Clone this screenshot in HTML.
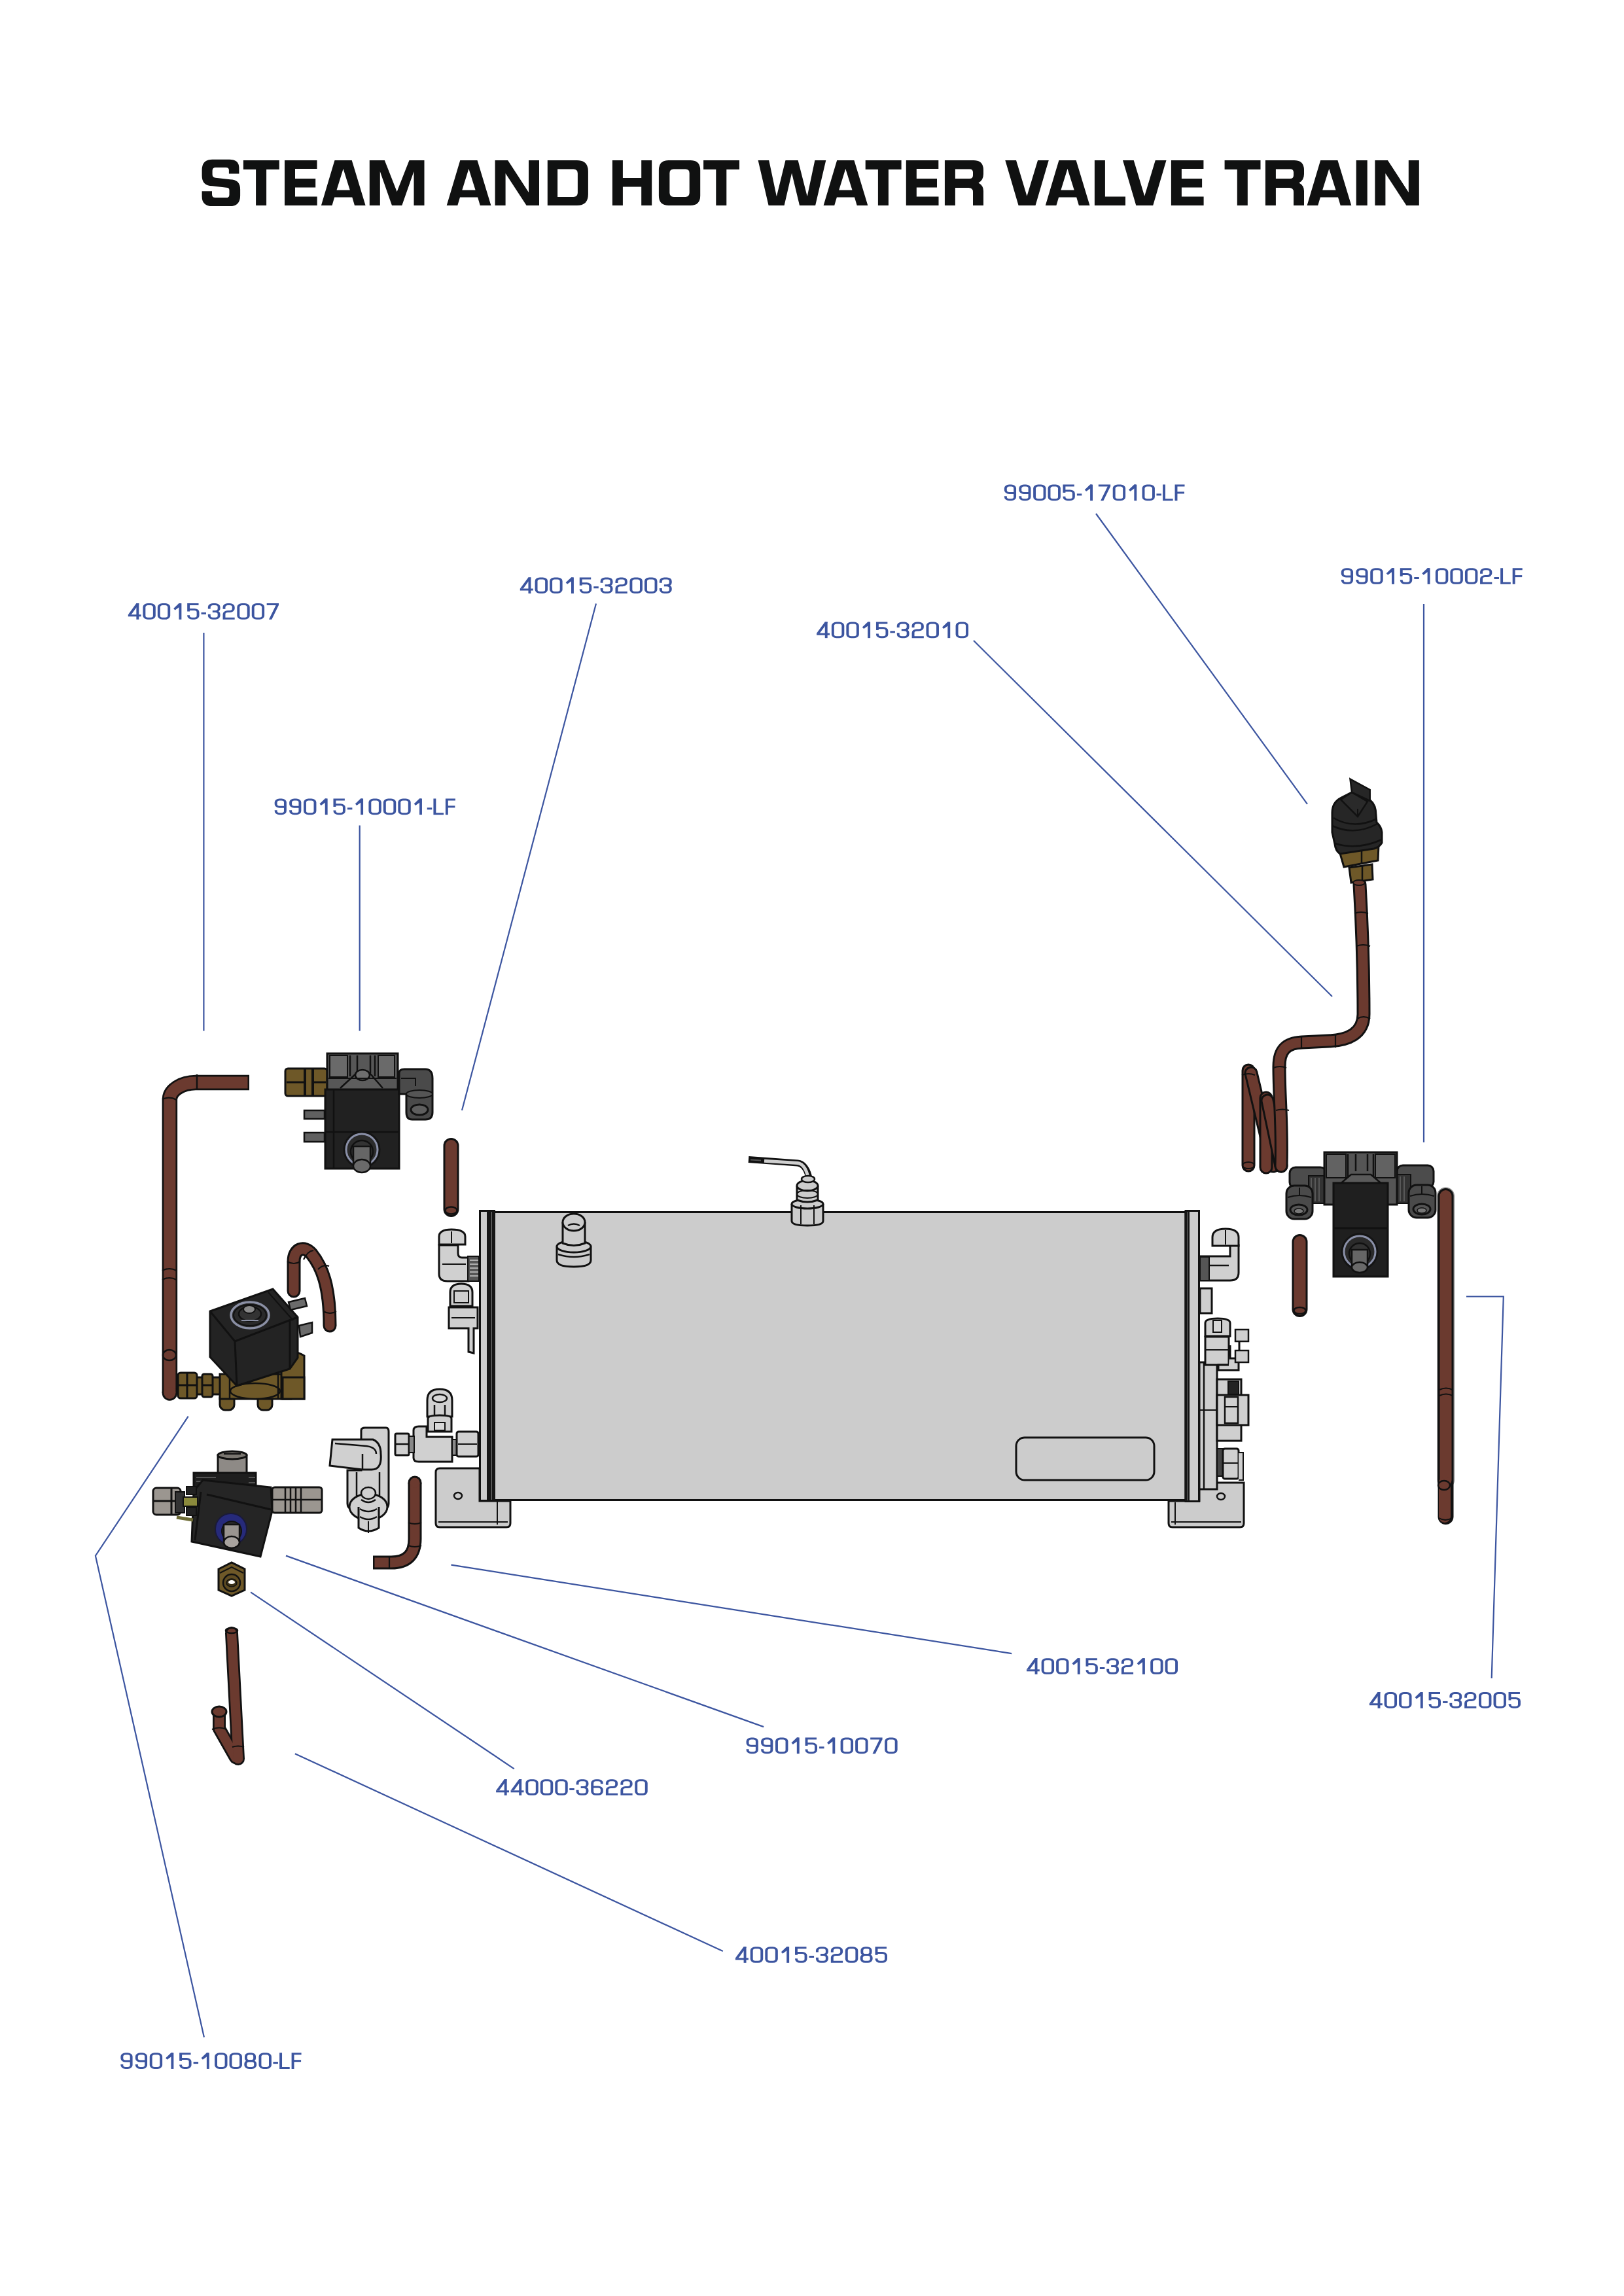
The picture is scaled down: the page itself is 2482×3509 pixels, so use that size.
<!DOCTYPE html>
<html><head><meta charset="utf-8">
<style>
html,body{margin:0;padding:0;background:#fff;}
body{width:2482px;height:3509px;overflow:hidden;position:relative;}
svg{position:absolute;left:0;top:0;display:block;}
.lbl{font-family:"Liberation Sans",sans-serif;font-size:35.6px;fill:#3c55a0;stroke:#3c55a0;stroke-width:0.6px;}
.ttl{font-family:"Liberation Sans",sans-serif;font-weight:bold;font-size:101.7px;fill:#101111;}
.ld{stroke:#3c55a0;stroke-width:2.2;fill:none;}
.pb{fill:none;stroke:#111;stroke-linecap:round;stroke-linejoin:round;}
.pc{fill:none;stroke:#6b3a2f;stroke-linecap:round;stroke-linejoin:round;}
</style></head>
<body>
<svg width="2482" height="3509" viewBox="0 0 2482 3509">
<!-- TEXT -->
<defs>
<g id="g0"><path d="M1.95,7.45 A5.5,5.5 0 0 1 7.45,1.95 H11.95 A5.5,5.5 0 0 1 17.45,7.45 V24.55 A5.5,5.5 0 0 1 11.95,30.05 H7.45 A5.5,5.5 0 0 1 1.95,24.55 Z" fill="none"/></g>
<g id="g8"><path d="M2.6,6.95 A5,5 0 0 1 7.6,1.95 H10.75 A5,5 0 0 1 15.75,6.95 V11.1 A5,5 0 0 1 10.75,16.1 H7.6 A5,5 0 0 1 2.6,11.1 Z" fill="none"/><path d="M1.95,21.6 A5.5,5.5 0 0 1 7.45,16.1 H11.35 A5.5,5.5 0 0 1 16.85,21.6 V24.55 A5.5,5.5 0 0 1 11.35,30.05 H7.45 A5.5,5.5 0 0 1 1.95,24.55 Z" fill="none"/></g>
<g id="g9"><path d="M16.25,16.6 H7.45 A5.5,5.5 0 0 1 1.95,11.1 V7.45 A5.5,5.5 0 0 1 7.45,1.95 H10.75 A5.5,5.5 0 0 1 16.25,7.45 V24.55 A5.5,5.5 0 0 1 10.75,30.05 H7.45 A5.5,5.5 0 0 1 1.95,24.55 V23" fill="none"/></g>
<g id="g6"><path d="M1.95,15.3 H11.05 A5.5,5.5 0 0 1 16.55,20.8 V24.55 A5.5,5.5 0 0 1 11.05,30.05 H7.45 A5.5,5.5 0 0 1 1.95,24.55 V7.45 A5.5,5.5 0 0 1 7.45,1.95 H11.05 A5.5,5.5 0 0 1 16.55,7.45 V9" fill="none"/></g>
<g id="g5"><path d="M17.4,1.95 H1.95 V16.2" fill="none"/><path d="M1.95,12.1 H10.95 A5.5,5.5 0 0 1 16.45,17.6 V24.55 A5.5,5.5 0 0 1 10.95,30.05 H7.45 A5.5,5.5 0 0 1 1.95,24.55 V23.5" fill="none"/></g>
<g id="g4"><path d="M14.6,0 V32" fill="none"/><path d="M0,24.2 H19.9" fill="none"/><path d="M12.65,0 L16.55,0 L16.55,1.5 L4.7,22.5 L0,22.5 Z" stroke="none"/></g>
<g id="g1"><path d="M10.25,0 V32" fill="none"/><path d="M8.3,0 L11,0 L11,5.4 L2.3,13.6 L0,10.3 Z" stroke="none"/></g>
<g id="g2"><path d="M1.95,11.2 V7.45 A5.5,5.5 0 0 1 7.45,1.95 H10.75 A5.5,5.5 0 0 1 16.25,7.45 V10.6 A5.5,5.5 0 0 1 10.75,16.1 H7.45 A5.5,5.5 0 0 0 1.95,21.6 V30.05 H18.2" fill="none"/></g>
<g id="g3"><path d="M1.95,10.9 V7.45 A5.5,5.5 0 0 1 7.45,1.95 H11.35 A5.5,5.5 0 0 1 16.85,7.45 V10.5 A5.5,5.5 0 0 1 11.35,16 H7" fill="none"/><path d="M11.35,16 A5.5,5.5 0 0 1 16.85,21.5 V24.55 A5.5,5.5 0 0 1 11.35,30.05 H7.45 A5.5,5.5 0 0 1 1.95,24.55 V21.6" fill="none"/></g>
<g id="g7"><path d="M0,0 H18.4 V3.6 L7.6,32 H3.3 L14.0,3.9 H0 Z" stroke="none"/></g>
<g id="gL"><path d="M1.95,0 V30.05 H15.6" fill="none"/></g>
<g id="gF"><path d="M1.95,32 V1.95 H15" fill="none"/><path d="M1.95,16.1 H14.5" fill="none"/></g>
<g id="gh"><path d="M0,19.9 H7.5" fill="none"/></g>
</defs>
<g id="labels" fill="#3c55a0" stroke="#3c55a0" stroke-width="3.9" stroke-linejoin="miter" stroke-linecap="butt">
<g transform="translate(1534.90,740.60) scale(0.9966,0.77)"><use href="#g9" x="0.00"/><use href="#g9" x="22.50"/><use href="#g0" x="44.40"/><use href="#g0" x="66.90"/><use href="#g5" x="89.90"/><use href="#gh" x="111.35"/><use href="#g1" x="123.35"/><use href="#g7" x="144.40"/><use href="#g0" x="166.40"/><use href="#g1" x="190.85"/><use href="#g0" x="211.40"/><use href="#gh" x="233.35"/><use href="#gL" x="243.05"/><use href="#gF" x="261.55"/></g>
<g transform="translate(2049.80,868.20) scale(1.0013,0.77)"><use href="#g9" x="0.00"/><use href="#g9" x="22.50"/><use href="#g0" x="44.40"/><use href="#g1" x="68.85"/><use href="#g5" x="89.90"/><use href="#gh" x="111.35"/><use href="#g1" x="123.35"/><use href="#g0" x="143.90"/><use href="#g0" x="166.40"/><use href="#g0" x="188.90"/><use href="#g2" x="212.00"/><use href="#gh" x="233.35"/><use href="#gL" x="243.05"/><use href="#gF" x="261.55"/></g>
<g transform="translate(794.80,882.40) scale(1.0024,0.77)"><use href="#g4" x="0.00"/><use href="#g0" x="22.75"/><use href="#g0" x="45.25"/><use href="#g1" x="69.70"/><use href="#g5" x="90.75"/><use href="#gh" x="112.20"/><use href="#g3" x="122.55"/><use href="#g2" x="145.35"/><use href="#g0" x="167.25"/><use href="#g0" x="189.75"/><use href="#g3" x="212.55"/></g>
<g transform="translate(195.80,922.10) scale(0.9959,0.77)"><use href="#g4" x="0.00"/><use href="#g0" x="22.75"/><use href="#g0" x="45.25"/><use href="#g1" x="69.70"/><use href="#g5" x="90.75"/><use href="#gh" x="112.20"/><use href="#g3" x="122.55"/><use href="#g2" x="145.35"/><use href="#g0" x="167.25"/><use href="#g0" x="189.75"/><use href="#g7" x="212.75"/></g>
<g transform="translate(1248.10,950.50) scale(1.0011,0.77)"><use href="#g4" x="0.00"/><use href="#g0" x="22.75"/><use href="#g0" x="45.25"/><use href="#g1" x="69.70"/><use href="#g5" x="90.75"/><use href="#gh" x="112.20"/><use href="#g3" x="122.55"/><use href="#g2" x="145.35"/><use href="#g0" x="167.25"/><use href="#g1" x="191.70"/><use href="#g0" x="212.25"/></g>
<g transform="translate(419.70,1220.50) scale(0.9987,0.77)"><use href="#g9" x="0.00"/><use href="#g9" x="22.50"/><use href="#g0" x="44.40"/><use href="#g1" x="68.85"/><use href="#g5" x="89.90"/><use href="#gh" x="111.35"/><use href="#g1" x="123.35"/><use href="#g0" x="143.90"/><use href="#g0" x="166.40"/><use href="#g0" x="188.90"/><use href="#g1" x="213.35"/><use href="#gh" x="233.35"/><use href="#gL" x="243.05"/><use href="#gF" x="261.55"/></g>
<g transform="translate(1569.00,2534.20) scale(0.9972,0.77)"><use href="#g4" x="0.00"/><use href="#g0" x="22.75"/><use href="#g0" x="45.25"/><use href="#g1" x="69.70"/><use href="#g5" x="90.75"/><use href="#gh" x="112.20"/><use href="#g3" x="122.55"/><use href="#g2" x="145.35"/><use href="#g1" x="169.20"/><use href="#g0" x="189.75"/><use href="#g0" x="212.25"/></g>
<g transform="translate(2092.90,2586.10) scale(0.9994,0.77)"><use href="#g4" x="0.00"/><use href="#g0" x="22.75"/><use href="#g0" x="45.25"/><use href="#g1" x="69.70"/><use href="#g5" x="90.75"/><use href="#gh" x="112.20"/><use href="#g3" x="122.55"/><use href="#g2" x="145.35"/><use href="#g0" x="167.25"/><use href="#g0" x="189.75"/><use href="#g5" x="212.75"/></g>
<g transform="translate(1140.60,2655.50) scale(1.0009,0.77)"><use href="#g9" x="0.00"/><use href="#g9" x="22.50"/><use href="#g0" x="44.40"/><use href="#g1" x="68.85"/><use href="#g5" x="89.90"/><use href="#gh" x="111.35"/><use href="#g1" x="123.35"/><use href="#g0" x="143.90"/><use href="#g0" x="166.40"/><use href="#g7" x="189.40"/><use href="#g0" x="211.40"/></g>
<g transform="translate(758.10,2719.20) scale(0.9998,0.77)"><use href="#g4" x="0.00"/><use href="#g4" x="22.50"/><use href="#g0" x="45.25"/><use href="#g0" x="67.75"/><use href="#g0" x="90.25"/><use href="#gh" x="112.20"/><use href="#g3" x="122.55"/><use href="#g6" x="145.20"/><use href="#g2" x="167.85"/><use href="#g2" x="190.35"/><use href="#g0" x="212.25"/></g>
<g transform="translate(1123.90,2975.20) scale(1.0041,0.77)"><use href="#g4" x="0.00"/><use href="#g0" x="22.75"/><use href="#g0" x="45.25"/><use href="#g1" x="69.70"/><use href="#g5" x="90.75"/><use href="#gh" x="112.20"/><use href="#g3" x="122.55"/><use href="#g2" x="145.35"/><use href="#g0" x="167.25"/><use href="#g8" x="190.05"/><use href="#g5" x="212.75"/></g>
<g transform="translate(184.40,3137.30) scale(0.9987,0.77)"><use href="#g9" x="0.00"/><use href="#g9" x="22.50"/><use href="#g0" x="44.40"/><use href="#g1" x="68.85"/><use href="#g5" x="89.90"/><use href="#gh" x="111.35"/><use href="#g1" x="123.35"/><use href="#g0" x="143.90"/><use href="#g0" x="166.40"/><use href="#g8" x="189.20"/><use href="#g0" x="211.40"/><use href="#gh" x="233.35"/><use href="#gL" x="243.05"/><use href="#gF" x="261.55"/></g>
</g>
<g id="title" fill="#101111" stroke="none">
<path transform="translate(308.6,244.9)" d="M56.8,20.6 V12 Q56.8,-1.2 42,-1.2 H16 Q0,-1.2 0,15 V23.5 Q0,39.3 16,39.3 L37.5,41.8 Q41.9,41.8 41.9,46 V52.5 Q41.9,57.2 37,57.2 H20.5 Q15.4,57.2 15.4,52 V47.4 H0 V55 Q0,70.2 16,70.2 H42.5 Q58.5,70.2 58.5,54 V44.5 Q58.5,29.3 43,29.3 L21,26.8 Q16,26.4 16,21.5 V16 Q16,11 21,11 H36.5 Q41.3,11 41.3,15 V20.6 Z" fill-rule="evenodd"/>
<path transform="translate(371.9,244.9)" d="M0,0 H54.9 V14 H35.2 V69 H19.2 V14 H0 Z" fill-rule="evenodd"/>
<path transform="translate(435.0,244.9)" d="M0,0 H49.5 V13.2 H16 V28.2 H47.2 V41.6 H16 V55.6 H49.7 V69 H0 Z" fill-rule="evenodd"/>
<path transform="translate(490.9,244.9)" d="M0,69 L20.6,0 H46.8 L67.7,69 H51.1 L47.4,56.6 H20.3 L16.6,69 Z M33.7,13 L23.6,45.5 H43.9 Z" fill-rule="evenodd"/>
<path transform="translate(564.8,244.9)" d="M0,69 V0 H23 L41.85,48 L60.7,0 H83.7 V69 H67.7 V17 L49.5,69 H34.2 L16,17 V69 Z" fill-rule="evenodd"/>
<path transform="translate(682.7,244.9)" d="M0,69 L20.6,0 H46.8 L67.7,69 H51.1 L47.4,56.6 H20.3 L16.6,69 Z M33.7,13 L23.6,45.5 H43.9 Z" fill-rule="evenodd"/>
<path transform="translate(756.6,244.9)" d="M0,69 V0 H19.5 L51.4,49 V0 H67.4 V69 H48 L16,20 V69 Z" fill-rule="evenodd"/>
<path transform="translate(836.8,244.9)" d="M0,0 H45 Q62.1,0 62.1,17 V52 Q62.1,69 45,69 H0 Z M15.3,13.5 H39.5 Q46.1,13.5 46.1,20 V49.5 Q46.1,56 39.5,56 H15.3 Z" fill-rule="evenodd"/>
<path transform="translate(935.9,244.9)" d="M0,0 H16 V27.1 H44.3 V0 H60.3 V69 H44.3 V40.6 H16 V69 H0 Z" fill-rule="evenodd"/>
<path transform="translate(1006.9,244.9)" d="M15,0 H48.3 Q63.3,0 63.3,15 V54 Q63.3,69 48.3,69 H15 Q0,69 0,54 V15 Q0,0 15,0 Z M22.8,13.5 Q16.5,13.5 16.5,19.8 V49.7 Q16.5,56 22.8,56 H40.5 Q46.8,56 46.8,49.7 V19.8 Q46.8,13.5 40.5,13.5 Z" fill-rule="evenodd"/>
<path transform="translate(1075.1,244.9)" d="M0,0 H54.9 V14 H35.2 V69 H19.2 V14 H0 Z" fill-rule="evenodd"/>
<path transform="translate(1158.6,244.9)" d="M0,0 H16.6 L28.3,55.4 L41.9,0 H61 L75.1,55.4 L86.8,0 H103.7 L87.5,69 H63.4 L51.5,19.7 L40,69 H16 Z" fill-rule="evenodd"/>
<path transform="translate(1258.6,244.9)" d="M0,69 L20.6,0 H46.8 L67.7,69 H51.1 L47.4,56.6 H20.3 L16.6,69 Z M33.7,13 L23.6,45.5 H43.9 Z" fill-rule="evenodd"/>
<path transform="translate(1322.7,244.9)" d="M0,0 H54.9 V14 H35.2 V69 H19.2 V14 H0 Z" fill-rule="evenodd"/>
<path transform="translate(1384.8,244.9)" d="M0,0 H49.5 V13.2 H16 V28.2 H47.2 V41.6 H16 V55.6 H49.7 V69 H0 Z" fill-rule="evenodd"/>
<path transform="translate(1443.9,244.9)" d="M0,0 H44 Q59.1,0 59.1,15 V21 Q59.1,30.5 51.5,34.5 Q59.1,38.5 59.1,47 V69 H43.1 V48.5 Q43.1,42 36.5,42 H16 V69 H0 Z M16,13.5 H38 Q43.1,13.5 43.1,18.5 V23 Q43.1,28 38,28 H16 Z" fill-rule="evenodd"/>
<path transform="translate(1536.3,244.9)" d="M0,0 H16.7 L33.2,54.8 L49.8,0 H66.5 L46.2,69 H20.3 Z" fill-rule="evenodd"/>
<path transform="translate(1597.8,244.9)" d="M0,69 L20.6,0 H46.8 L67.7,69 H51.1 L47.4,56.6 H20.3 L16.6,69 Z M33.7,13 L23.6,45.5 H43.9 Z" fill-rule="evenodd"/>
<path transform="translate(1672.9,244.9)" d="M0,0 H16 V55.5 H47.1 V69 H0 Z" fill-rule="evenodd"/>
<path transform="translate(1716.0,244.9)" d="M0,0 H16.7 L33.2,54.8 L49.8,0 H66.5 L46.2,69 H20.3 Z" fill-rule="evenodd"/>
<path transform="translate(1789.9,244.9)" d="M0,0 H49.5 V13.2 H16 V28.2 H47.2 V41.6 H16 V55.6 H49.7 V69 H0 Z" fill-rule="evenodd"/>
<path transform="translate(1871.6,244.9)" d="M0,0 H54.9 V14 H35.2 V69 H19.2 V14 H0 Z" fill-rule="evenodd"/>
<path transform="translate(1933.9,244.9)" d="M0,0 H44 Q59.1,0 59.1,15 V21 Q59.1,30.5 51.5,34.5 Q59.1,38.5 59.1,47 V69 H43.1 V48.5 Q43.1,42 36.5,42 H16 V69 H0 Z M16,13.5 H38 Q43.1,13.5 43.1,18.5 V23 Q43.1,28 38,28 H16 Z" fill-rule="evenodd"/>
<path transform="translate(1997.6,244.9)" d="M0,69 L20.6,0 H46.8 L67.7,69 H51.1 L47.4,56.6 H20.3 L16.6,69 Z M33.7,13 L23.6,45.5 H43.9 Z" fill-rule="evenodd"/>
<path transform="translate(2072.7,244.9)" d="M0,0 H17 V69 H0 Z" fill-rule="evenodd"/>
<path transform="translate(2101.4,244.9)" d="M0,69 V0 H19.5 L51.4,49 V0 H67.4 V69 H48 L16,20 V69 Z" fill-rule="evenodd"/>
</g>

<!-- LEADER LINES -->
<g id="leaders">
<path class="ld" d="M311.4 967V1575.4"/>
<path class="ld" d="M549.7 1261.4V1575.4"/>
<path class="ld" d="M911 922.5L706 1697"/>
<path class="ld" d="M1488 979L2036 1523"/>
<path class="ld" d="M1675 785L1998 1228.8"/>
<path class="ld" d="M2176 923V1745.7"/>
<path class="ld" d="M2241 1981.5H2297.8L2279.7 2565"/>
<path class="ld" d="M689.5 2391.7L1546.2 2527.1"/>
<path class="ld" d="M437 2377.6L1167.1 2639.1"/>
<path class="ld" d="M383.1 2433.3L785.8 2703.3"/>
<path class="ld" d="M450.9 2680.2L1104.8 2982"/>
<path class="ld" d="M287.7 2164.6L145.9 2377.7L311.9 3113.4"/>
</g>

<g id="parts">
<!-- ===== L PIPE 40015-32007 ===== -->
<g id="lpipe">
<path class="pb" stroke-width="23.5" style="stroke-linecap:butt" d="M381,1654.5 H299 A40,26 0 0 0 259.4,1680 V2129"/>
<circle cx="259.4" cy="2129" r="11.75" fill="#111"/>
<path class="pc" stroke-width="18" style="stroke-linecap:butt" d="M378.5,1654.5 H299 A40,26 0 0 0 259.4,1680 V2129"/>
<circle cx="259.4" cy="2129" r="9" fill="#6b3a2f"/>
<path d="M301,1642 V1666" stroke="#111" stroke-width="2.5"/>
<path d="M248,1680 Q259,1675 270,1681" stroke="#111" stroke-width="2.2" fill="none"/>
<path d="M248,1942 Q259,1936 270,1942 M248,1956 Q259,1950 270,1956" stroke="#111" stroke-width="2.2" fill="none"/>
<ellipse cx="259" cy="2071" rx="10" ry="8" fill="none" stroke="#111" stroke-width="2.5"/>
</g>

<!-- ===== TOP LEFT VALVE 99015-10001-LF ===== -->
<g id="valve1" stroke="#111" stroke-width="3">
<rect x="436" y="1633" width="64" height="42" rx="4" fill="#6e5828"/>
<path d="M466,1634 V1674 M478,1634 V1674" stroke-width="4" fill="none"/>
<path d="M438,1654 H466 M478,1654 H498" stroke-width="3" fill="none"/>
<rect x="500" y="1610" width="108" height="56" fill="#575757"/>
<rect x="504" y="1613" width="27" height="33" fill="#6a6a6a" stroke-width="2"/>
<rect x="578" y="1613" width="25" height="33" fill="#6a6a6a" stroke-width="2"/>
<path d="M535,1613 V1645 M546,1613 V1640 M566,1613 V1640 M573,1613 V1645" stroke-width="2.5" fill="none"/>
<path d="M520,1663 L545,1640 H565 L585,1663" fill="#5e5e5e" stroke-width="2.5"/>
<ellipse cx="554" cy="1643" rx="11" ry="8" fill="#6e6e6e" stroke-width="2.5"/>
<path d="M502,1648 H606" stroke-width="2" fill="none"/>
<rect x="497" y="1665" width="113" height="121" fill="#212121"/>
<path d="M510,1666 V1785 M497,1730 H610" stroke-width="2.5" fill="none"/>
<rect x="465" y="1697" width="31" height="13" fill="#606060" stroke-width="2.5"/>
<rect x="465" y="1731" width="31" height="14" fill="#606060" stroke-width="2.5"/>
<path d="M610,1640 Q610,1634 618,1634 H650 Q661,1634 661,1648 V1700 Q661,1711 650,1711 H630 Q621,1711 621,1700 V1672 H610 Z" fill="#4a4a4a"/>
<ellipse cx="641" cy="1672" rx="20" ry="6" fill="#555" stroke-width="2"/>
<ellipse cx="641" cy="1696" rx="13" ry="8" fill="#5e5e5e" stroke-width="3"/>
<path d="M613,1648 H635 V1660" fill="none" stroke-width="2"/>
<circle cx="553" cy="1757" r="27" fill="#2b2b2b" stroke="#141414" stroke-width="3"/>
<circle cx="553" cy="1757" r="24" fill="none" stroke="#8a90a8" stroke-width="3"/>
<circle cx="553" cy="1760" r="17" fill="#333" stroke-width="2.5"/>
<rect x="540" y="1752" width="26" height="26" fill="#666" stroke-width="2.5"/>
<ellipse cx="553" cy="1782" rx="13" ry="10" fill="#6a6a6a" stroke-width="2.5"/>
</g>

<!-- ===== SHORT PIPE 40015-32003 ===== -->
<g id="spipe1">
<path class="pb" stroke-width="24" d="M689.5,1751 V1848"/>
<path class="pc" stroke-width="18" d="M689.5,1751 V1848"/>
<ellipse cx="689.5" cy="1850" rx="9" ry="5.5" fill="none" stroke="#111" stroke-width="2.5"/>
</g>

<!-- ===== STEAM VALVE (lower left) ===== -->
<g id="steamvalve" stroke="#111" stroke-width="3">
<rect x="298" y="2105" width="40" height="26" fill="#6e5828"/>
<rect x="272" y="2098" width="29" height="39" rx="4" fill="#6e5828"/>
<path d="M272,2117 H301 M286,2098 V2137" stroke-width="3" fill="none"/>
<rect x="309" y="2100" width="16" height="35" rx="3" fill="#6e5828"/>
<path d="M309,2117 H325" fill="none"/>
<rect x="336" y="2128" width="22" height="27" rx="8" fill="#6e5828"/>
<rect x="394" y="2128" width="22" height="27" rx="8" fill="#6e5828"/>
<path d="M336,2100 H445 V2138 H336 Z" fill="#6e5828"/>
<ellipse cx="390" cy="2126" rx="38" ry="12" fill="#6e5828" stroke-width="2.5"/>
<path d="M430,2070 Q445,2060 465,2072 V2138 H430 Z" fill="#6e5828"/>
<rect x="432" y="2105" width="33" height="33" fill="#6e5828" stroke-width="3"/>
<path d="M351,2100 V2138 M425,2100 V2138" stroke-width="2.5" fill="none"/>
<polygon points="321,2004 417,1970 455,2013 455,2075 443,2092 362,2118 321,2074" fill="#232323"/>
<path d="M321,2004 L359,2050 L455,2013 M359,2050 L362,2118 M443,2018 V2092" fill="none" stroke-width="3"/>
<path d="M410,1975 L448,2018" fill="none" stroke-width="2"/>
<ellipse cx="382" cy="2010" rx="29" ry="20" fill="#2a2a2a" stroke="#8b90a5" stroke-width="3.5"/>
<ellipse cx="382" cy="2010" rx="25" ry="16" fill="none" stroke="#111" stroke-width="2"/>
<ellipse cx="382" cy="2008" rx="17" ry="11" fill="#333" stroke-width="2.5"/>
<ellipse cx="381" cy="2001" rx="9" ry="6" fill="#8a8a8a" stroke-width="2"/>
<path d="M369,2018 H395" stroke="#8b90a5" stroke-width="2"/>
<polygon points="441,1990 466,1984 469,1996 444,2002" fill="#6b6b6b" stroke-width="2.5"/>
<polygon points="457,2026 477,2021 477,2037 459,2043" fill="#6b6b6b" stroke-width="2.5"/>
</g>
<g id="hookpipe">
<path class="pb" stroke-width="21" d="M449,1973 L449,1928 C449,1908 465,1903 476,1916 C492,1936 504,1965 504,2026"/>
<path class="pc" stroke-width="15" d="M449,1973 L449,1928 C449,1908 465,1903 476,1916 C492,1936 504,1965 504,2026"/>
<path d="M439,1928 Q449,1934 459,1928 M464,1925 Q470,1912 479,1911 M486,1940 Q494,1932 503,1935 M494,2004 Q504,2010 514,2004" stroke="#111" stroke-width="2.2" fill="none"/>
</g>

<!-- ===== 99015-10070 VALVE ===== -->
<g id="valve3" stroke="#111" stroke-width="3">
<rect x="333" y="2224" width="44" height="36" fill="#8e8a86"/>
<ellipse cx="355" cy="2224" rx="22" ry="6" fill="#7a7670" stroke-width="3"/>
<path d="M342,2222 H368" stroke-width="2" fill="none"/>
<rect x="296" y="2251" width="95" height="30" fill="#1e1e1e"/>
<path d="M300,2258 H330 M300,2264 H330 M380,2258 H390 M380,2266 H390" stroke="#666" stroke-width="1.5"/>
<polygon points="296,2279 310,2262 414,2273 416,2309 398,2379 293,2356" fill="#252525"/>
<path d="M316,2284 L414,2307 M307,2280 L298,2354" fill="none" stroke-width="3"/>
<rect x="234" y="2274" width="42" height="41" rx="5" fill="#9b9690"/>
<path d="M234,2294 H276 M262,2275 V2314" fill="none" stroke-width="3"/>
<rect x="268" y="2280" width="14" height="32" fill="#333" stroke-width="2"/>
<rect x="280" y="2288" width="22" height="14" fill="#8b8a3c" stroke-width="2"/>
<rect x="285" y="2272" width="15" height="12" fill="#222" stroke-width="2"/>
<rect x="285" y="2304" width="15" height="12" fill="#222" stroke-width="2"/>
<path d="M270,2319 L295,2323" stroke="#6d6b35" stroke-width="5"/>
<rect x="416" y="2273" width="76" height="39" rx="4" fill="#9b9690"/>
<path d="M436,2273 V2312 M444,2272 V2313 M452,2273 V2312 M460,2272 V2313 M416,2292 H492" fill="none" stroke-width="2.5"/>
<circle cx="353" cy="2337" r="24" fill="#262a7a" stroke="#1a1a3a" stroke-width="2"/>
<circle cx="354" cy="2340" r="15" fill="#2a2a2a" stroke-width="2"/>
<rect x="342" y="2330" width="24" height="28" fill="#9a9590" stroke-width="2.5"/>
<ellipse cx="354" cy="2357" rx="12" ry="9" fill="#a8a39e" stroke-width="2.5"/>
<polygon points="334,2398 354,2388 374,2398 374,2430 354,2439 334,2430" fill="#6e5828"/>
<path d="M336,2404 L354,2395 L372,2404" fill="none" stroke-width="2"/>
<circle cx="354" cy="2419" r="13" fill="#5e4b22" stroke-width="2.5"/>
<ellipse cx="354" cy="2419" rx="8" ry="6" fill="#3a3018" stroke-width="1.5"/>
<ellipse cx="354" cy="2418" rx="5" ry="3" fill="#fff" stroke="none"/>
</g>

<!-- ===== J PIPE 40015-32085 ===== -->
<g id="jpipe">
<path class="pb" stroke-width="20" d="M354,2496 L364,2688"/>
<path class="pb" stroke-width="20" d="M335,2621 L335,2642 L360,2686"/>
<path class="pc" stroke-width="14.5" d="M335,2621 L335,2642 L360,2686"/>
<path class="pc" stroke-width="14.5" d="M354,2496 L364,2688"/>
<ellipse cx="354" cy="2492" rx="9" ry="4" fill="none" stroke="#111" stroke-width="2.5"/>
<ellipse cx="335" cy="2616" rx="11" ry="8" fill="#6b3a2f" stroke="#111" stroke-width="3"/>
<path d="M324,2643 Q335,2638 346,2643 M355,2670 Q364,2667 373,2670" stroke="#111" stroke-width="2.2" fill="none"/>
</g>

<!-- ===== ELBOW PIPE 40015-32100 ===== -->
<g id="epipe">
<path class="pb" stroke-width="21" style="stroke-linecap:butt" d="M634,2266 V2352 Q634,2388 598,2388 H570"/>
<circle cx="634" cy="2266" r="10.5" fill="#111"/>
<path class="pc" stroke-width="15" style="stroke-linecap:butt" d="M634,2266 V2352 Q634,2388 598,2388 H572.5"/>
<circle cx="634" cy="2266" r="7.5" fill="#6b3a2f"/>
<path d="M624,2327 Q634,2331 644,2327 M624,2362 Q634,2366 644,2362 M595,2379 V2397" stroke="#111" stroke-width="2.2" fill="none"/>
</g>
<!-- ===== BOILER ===== -->
<g id="boiler" stroke="#111" stroke-width="3">
<!-- feet -->
<path d="M666,2250 Q666,2244 672,2244 H733 V2294 H780 V2328 Q780,2334 774,2334 H672 Q666,2334 666,2328 Z" fill="#cccccc"/>
<path d="M670,2326 H776" stroke-width="2" fill="none"/>
<path d="M760,2294 V2330" stroke-width="2" fill="none"/>
<ellipse cx="700" cy="2286" rx="6" ry="5" fill="none" stroke-width="2.5"/>
<path d="M1786,2294 H1833 V2266 H1901 V2328 Q1901,2334 1895,2334 H1792 Q1786,2334 1786,2328 Z" fill="#cccccc"/>
<path d="M1790,2326 H1897 M1796,2296 V2330" stroke-width="2" fill="none"/>
<ellipse cx="1866" cy="2287" rx="6" ry="5" fill="none" stroke-width="2.5"/>
<!-- body -->
<rect x="755" y="1852.5" width="1057" height="440" fill="#cccccc"/>
<!-- flanges -->
<rect x="733.5" y="1850.5" width="22" height="443" fill="#cccccc"/>
<rect x="744" y="1851" width="12" height="442" fill="#161616" stroke="none"/>
<path d="M751.5,1852 V2292" stroke="#777" stroke-width="1" fill="none"/>
<rect x="1812" y="1850.5" width="20.5" height="444" fill="#cccccc"/>
<rect x="1811" y="1851" width="7" height="443" fill="#161616" stroke="none"/>
<path d="M1814.5,1852 V2293" stroke="#666" stroke-width="1" fill="none"/>
<!-- label plate -->
<rect x="1553" y="2197" width="211" height="65" rx="13" fill="none" stroke-width="3"/>
<!-- top left fitting -->
<path d="M851,1905 V1926 Q851,1936 877,1936 Q903,1936 903,1926 V1905" fill="#cccccc"/>
<ellipse cx="877" cy="1905" rx="26" ry="9" fill="#cccccc"/>
<path d="M853,1917 Q877,1925 901,1917" fill="none" stroke-width="2.5"/>
<path d="M860,1868 V1900 Q877,1907 894,1900 V1868" fill="#cccccc"/>
<ellipse cx="877" cy="1868" rx="17" ry="13" fill="#cccccc"/>
<path d="M868,1873 Q877,1868 886,1873" fill="none" stroke-width="2.5"/>
<!-- top middle fitting + probe -->
<path d="M1144,1772 L1219,1777.5 Q1231,1779 1236,1798" fill="none" stroke="#111" stroke-width="10" stroke-linecap="butt"/>
<path d="M1168,1774.2 L1219,1777.5 Q1230,1779 1234.5,1797" fill="none" stroke="#cfcfcf" stroke-width="5" stroke-linecap="butt"/>
<path d="M1147,1772.5 L1163,1773.6" fill="none" stroke="#555" stroke-width="2"/>
<path d="M1210,1840 V1866 Q1210,1873 1234,1873 Q1258,1873 1258,1866 V1840" fill="#cccccc"/>
<ellipse cx="1234" cy="1840" rx="24" ry="7" fill="#cccccc"/>
<path d="M1224,1842 V1871 M1244,1842 V1871" stroke-width="2" fill="none"/>
<path d="M1218,1812 V1834 Q1234,1840 1250,1834 V1812" fill="#cccccc"/>
<ellipse cx="1234" cy="1812" rx="16" ry="8" fill="#cccccc"/>
<ellipse cx="1234" cy="1825" rx="16" ry="6" fill="none" stroke-width="2"/>
<ellipse cx="1235" cy="1802" rx="10" ry="5" fill="#cccccc" stroke-width="2.5"/>

<!-- LEFT SIDE FITTINGS -->
<!-- elbow -->
<path d="M671,1890 Q671,1879 690,1879 Q711,1879 711,1890 V1902 H671 Z" fill="#d0d0d0"/>
<path d="M671,1903 V1947 Q671,1958 684,1958 H716 V1922 H706 Q700,1922 700,1915 V1903 Z" fill="#d0d0d0"/>
<rect x="715" y="1920" width="17" height="38" fill="#555" stroke-width="2"/>
<path d="M718,1926 H731 M718,1932 H731 M718,1938 H731 M718,1944 H731 M718,1950 H731" stroke="#ccc" stroke-width="1.5"/>
<path d="M676,1932 H712 M690,1882 V1900" fill="none" stroke-width="2"/>
<!-- second fitting -->
<path d="M688,1975 Q688,1962 705,1962 Q722,1962 722,1975 V1996 H688 Z" fill="#d0d0d0"/>
<rect x="694" y="1973" width="22" height="18" fill="#cfcfcf" stroke-width="2"/>
<path d="M686,1998 H730 V2030 H724 V2068 L716,2066 V2030 H686 Z" fill="#cfcfcf"/>
<path d="M690,2014 H726" fill="none" stroke-width="2"/>
<!-- vertical fitting above tee -->
<path d="M653,2140 Q653,2123 672,2123 Q691,2123 691,2140 V2165 H653 Z" fill="#d0d0d0"/>
<ellipse cx="672" cy="2137" rx="11" ry="6" fill="#d8d8d8" stroke-width="2.5"/>
<path d="M664,2147 V2162 M680,2147 V2162" stroke-width="2.5" fill="none"/>
<path d="M654,2168 Q654,2163 672,2163 Q690,2163 690,2168 V2188 H654 Z" fill="#cfcfcf"/>
<rect x="664" y="2174" width="16" height="12" fill="#d8d8d8" stroke-width="2"/>
<!-- tee -->
<path d="M632,2186 Q632,2180 640,2180 H652 V2196 H691 V2234 H640 Q632,2234 632,2228 Z" fill="#d0d0d0"/>
<rect x="604" y="2191" width="21" height="33" rx="2" fill="#d0d0d0"/>
<path d="M604,2207 H625" stroke-width="2.5" fill="none"/>
<rect x="625" y="2195" width="8" height="25" fill="#888" stroke-width="2"/>
<rect x="691" y="2200" width="8" height="24" fill="#888" stroke-width="2"/>
<rect x="698" y="2188" width="33" height="38" rx="3" fill="#d0d0d0"/>
<path d="M700,2207 H729" stroke-width="2" fill="none"/>
<!-- tap valve -->
<path d="M552,2186 Q552,2182 558,2182 H590 Q594,2182 594,2188 V2298 Q594,2306 586,2306 H539 Q531,2306 531,2298 V2247 H552 Z" fill="#d0d0d0"/>
<path d="M545,2250 V2300 M580,2250 V2300" stroke-width="2.5" fill="none"/>
<path d="M508,2200 L570,2200 Q582,2205 582,2222 Q584,2246 568,2246 H554 L504,2240 Z" fill="#d0d0d0"/>
<path d="M512,2206 L560,2210 Q575,2212 575,2222 M554,2222 V2246" fill="none" stroke-width="2.5"/>
<ellipse cx="563" cy="2303" rx="29" ry="20" fill="#d0d0d0"/>
<path d="M548,2303 V2335 Q563,2345 579,2335 V2303" fill="#d0d0d0"/>
<ellipse cx="563" cy="2282" rx="11" ry="9" fill="#d0d0d0" stroke-width="2.5"/>
<path d="M552,2292 Q563,2300 574,2292 M550,2306 Q563,2314 576,2306 M550,2318 Q563,2326 576,2318" fill="none" stroke-width="2.5"/>
<path d="M563,2325 V2343" stroke-width="2" fill="none"/>

<!-- RIGHT SIDE FITTINGS -->
<rect x="1833" y="2082" width="27" height="194" fill="#cfcfcf"/>
<path d="M1840,2082 V2276" stroke-width="2.5" fill="none"/>
<path d="M1833,2155 H1860" stroke-width="2" fill="none"/>
<!-- elbow top right -->
<path d="M1834,1920 H1880 V1903 H1893 V1945 Q1893,1957 1880,1957 H1834 Z" fill="#d0d0d0"/>
<path d="M1853,1891 Q1853,1878 1873,1878 Q1893,1878 1893,1891 V1904 H1853 Z" fill="#d0d0d0"/>
<path d="M1873,1880 V1902" fill="none" stroke-width="2"/>
<rect x="1834" y="1921" width="14" height="36" fill="#555" stroke-width="2"/>
<path d="M1848,1934 H1878" fill="none" stroke-width="2.5"/>
<rect x="1834" y="1969" width="18" height="38" fill="#cfcfcf"/>
<!-- valve middle right -->
<path d="M1842,2022 Q1842,2015 1861,2015 Q1880,2015 1880,2022 V2042 H1842 Z" fill="#d0d0d0"/>
<rect x="1854" y="2018" width="13" height="18" fill="#d8d8d8" stroke-width="2"/>
<rect x="1842" y="2043" width="36" height="43" fill="#cfcfcf"/>
<path d="M1842,2063 H1878" stroke-width="2" fill="none"/>
<path d="M1880,2056 V2076 H1893 V2094 H1862 V2086 H1878" fill="#cfcfcf"/>
<rect x="1888" y="2032" width="20" height="18" fill="#cfcfcf" stroke-width="2.5"/>
<rect x="1888" y="2064" width="20" height="18" fill="#cfcfcf" stroke-width="2.5"/>
<path d="M1894,2050 V2064" stroke-width="3" fill="none"/>
<!-- fitting lower right -->
<rect x="1860" y="2108" width="37" height="94" fill="#cfcfcf"/>
<rect x="1877" y="2111" width="16" height="20" fill="#222" stroke-width="2"/>
<rect x="1860" y="2132" width="48" height="46" fill="#cfcfcf"/>
<rect x="1872" y="2135" width="20" height="40" fill="#d0d0d0" stroke-width="2.5"/>
<path d="M1872,2150 H1892" stroke-width="2" fill="none"/>
<!-- nut bottom right -->
<rect x="1860" y="2214" width="10" height="42" fill="#444" stroke-width="2"/>
<rect x="1869" y="2214" width="24" height="46" rx="3" fill="#d0d0d0"/>
<path d="M1869,2236 H1893" stroke-width="2" fill="none"/>
<path d="M1893,2220 H1900 V2262 H1893" fill="#cfcfcf" stroke-width="2"/>
</g>
<!-- ===== COIL PIPE 40015-32010 ===== -->
<g id="coil">
<path class="pb" stroke-width="21" d="M1908,1636 V1781"/>
<path class="pc" stroke-width="15" d="M1908,1636 V1781"/>
<path class="pb" stroke-width="21" d="M1912,1640 L1946,1782"/>
<path class="pc" stroke-width="15" d="M1912,1640 L1946,1782"/>
<path class="pb" stroke-width="21" d="M1935,1678 V1784"/>
<path class="pc" stroke-width="15" d="M1935,1678 V1784"/>
<path class="pb" stroke-width="21" d="M1937,1682 L1958,1782"/>
<path class="pc" stroke-width="15" d="M1937,1682 L1958,1782"/>
<path class="pb" stroke-width="21" d="M2078,1352 C2082,1420 2084,1480 2084,1550 C2084,1580 2060,1590 2030,1591 L1990,1593 C1965,1594 1955,1605 1955,1630 C1955,1680 1960,1720 1958,1782"/>
<path class="pc" stroke-width="15" d="M2078,1352 C2082,1420 2084,1480 2084,1550 C2084,1580 2060,1590 2030,1591 L1990,1593 C1965,1594 1955,1605 1955,1630 C1955,1680 1960,1720 1958,1782"/>
<path d="M2070,1396 Q2080,1392 2091,1396 M2073,1446 Q2083,1442 2094,1446 M2074,1557 Q2084,1551 2094,1557 M2041,1582 V1601 M1989,1583 V1603 M1946,1632 Q1956,1628 1966,1632 M1950,1697 Q1960,1694 1970,1697 M1898,1643 Q1908,1639 1918,1643" stroke="#111" stroke-width="2.2" fill="none"/>
<ellipse cx="1908" cy="1781" rx="9" ry="5" fill="none" stroke="#111" stroke-width="2"/>
</g>

<!-- ===== PRESSURESTAT 99005-17010-LF ===== -->
<g id="pstat" stroke="#111" stroke-width="3">
<path d="M2062,1326 L2097,1321 L2098,1344 L2065,1349 Z" fill="#6e5828"/>
<path d="M2082,1323 V1346" fill="none" stroke-width="2.5"/>
<path d="M2047,1301 L2107,1291 L2106,1315 L2054,1325 Z" fill="#6e5828"/>
<path d="M2081,1297 V1320" fill="none" stroke-width="2.5"/>
<path d="M2036,1242 Q2036,1226 2050,1219 L2066,1211 L2094,1223 Q2103,1230 2103,1246 L2104,1257 Q2111,1263 2112,1272 V1288 Q2108,1295 2100,1297 L2048,1305 Q2041,1300 2040,1290 L2036,1272 Z" fill="#262626"/>
<path d="M2038,1250 Q2068,1268 2103,1252" fill="none" stroke-width="2.5"/>
<path d="M2036,1262 Q2070,1278 2105,1259" fill="none" stroke-width="2.5"/>
<path d="M2040,1289 Q2075,1300 2112,1283" fill="none" stroke-width="2.5"/>
<path d="M2049,1222 L2066,1211 L2090,1225 L2075,1248 Z" fill="#2a2a2a" stroke-width="2.5"/>
<path d="M2075,1236 V1248" fill="none" stroke-width="2"/>
<path d="M2063.5,1190.6 L2093.7,1207 L2093.7,1224 L2066,1211 Z" fill="#262626" stroke-width="2.5"/>
<ellipse cx="2077" cy="1349" rx="9" ry="4" fill="#6b3a2f" stroke-width="2"/>
</g>

<!-- ===== RIGHT VALVE 99015-10002-LF ===== -->
<g id="valve4" stroke="#111" stroke-width="3">
<rect x="1971" y="1784" width="56" height="32" rx="9" fill="#4c4c4c"/>
<rect x="2000" y="1797" width="26" height="42" fill="#333" stroke-width="2"/>
<path d="M2004,1800 V1836 M2010,1800 V1836 M2016,1800 V1836" stroke="#666" stroke-width="1.5"/>
<rect x="1966" y="1812" width="40" height="51" rx="12" fill="#4a4a4a"/>
<path d="M1968,1830 Q1986,1824 2004,1830" fill="none" stroke-width="2"/>
<path d="M1986,1815 V1828" fill="none" stroke-width="2"/>
<ellipse cx="1985" cy="1849" rx="13" ry="8" fill="#555" stroke-width="3"/>
<ellipse cx="1985" cy="1851" rx="7" ry="4" fill="#777" stroke-width="1.5"/>
<rect x="2135" y="1781" width="56" height="34" rx="9" fill="#4c4c4c"/>
<rect x="2134" y="1795" width="22" height="44" fill="#333" stroke-width="2"/>
<path d="M2140,1798 V1836 M2146,1798 V1836" stroke="#666" stroke-width="1.5"/>
<rect x="2153" y="1811" width="41" height="50" rx="12" fill="#4a4a4a"/>
<path d="M2155,1828 Q2173,1822 2192,1828" fill="none" stroke-width="2"/>
<path d="M2173,1813 V1826" fill="none" stroke-width="2"/>
<ellipse cx="2173" cy="1848" rx="13" ry="8" fill="#555" stroke-width="3"/>
<ellipse cx="2173" cy="1850" rx="7" ry="4" fill="#777" stroke-width="1.5"/>
<rect x="2024" y="1761" width="111" height="80" fill="#555"/>
<rect x="2027" y="1764" width="30" height="36" fill="#626262" stroke-width="2"/>
<rect x="2102" y="1764" width="30" height="36" fill="#626262" stroke-width="2"/>
<path d="M2060,1764 V1800 M2072,1764 V1790 M2090,1764 V1790 M2099,1764 V1800" fill="none" stroke-width="2.5"/>
<path d="M2045,1812 L2065,1795 H2095 L2115,1812" fill="#5a5a5a" stroke-width="2.5"/>
<rect x="2038" y="1808" width="83" height="143" fill="#1f1f1f"/>
<path d="M2038,1877 H2121" fill="none" stroke-width="3"/>
<circle cx="2078" cy="1913" r="27" fill="#2a2a2a" stroke="#141414" stroke-width="3"/>
<circle cx="2078" cy="1913" r="24" fill="none" stroke="#8a90a8" stroke-width="3"/>
<circle cx="2078" cy="1916" r="16" fill="#333" stroke-width="2.5"/>
<rect x="2066" y="1910" width="24" height="24" fill="#666" stroke-width="2.5"/>
<ellipse cx="2078" cy="1937" rx="12" ry="8" fill="#6a6a6a" stroke-width="2.5"/>
</g>

<!-- ===== RIGHT SHORT PIPE ===== -->
<g id="spipe2">
<path class="pb" stroke-width="24" d="M1986.5,1898 V2001"/>
<path class="pc" stroke-width="18" d="M1986.5,1898 V2001"/>
<ellipse cx="1986.5" cy="2003" rx="9" ry="5" fill="none" stroke="#111" stroke-width="2.5"/>
</g>

<!-- ===== LONG RIGHT PIPE 40015-32005 ===== -->
<g id="lpipe2">
<path d="M2209.5,1828 V2262" stroke="#8a8a8a" stroke-width="27" stroke-linecap="round"/>
<path class="pb" stroke-width="24" d="M2209.5,1828 V2318"/>
<path class="pc" stroke-width="18" d="M2209.5,1828 V2262"/>
<path class="pc" stroke-width="18" d="M2208,2266 V2318"/>
<path d="M2200,2124 Q2210,2119 2220,2124 M2200,2133 Q2210,2128 2220,2133" stroke="#111" stroke-width="2.2" fill="none"/>
<ellipse cx="2207" cy="2270" rx="9" ry="7" fill="none" stroke="#111" stroke-width="2.5"/>
<path d="M2199,2320 Q2209,2326 2219,2320" stroke="#111" stroke-width="2" fill="none"/>
</g>
</g>
</svg>
</body></html>
